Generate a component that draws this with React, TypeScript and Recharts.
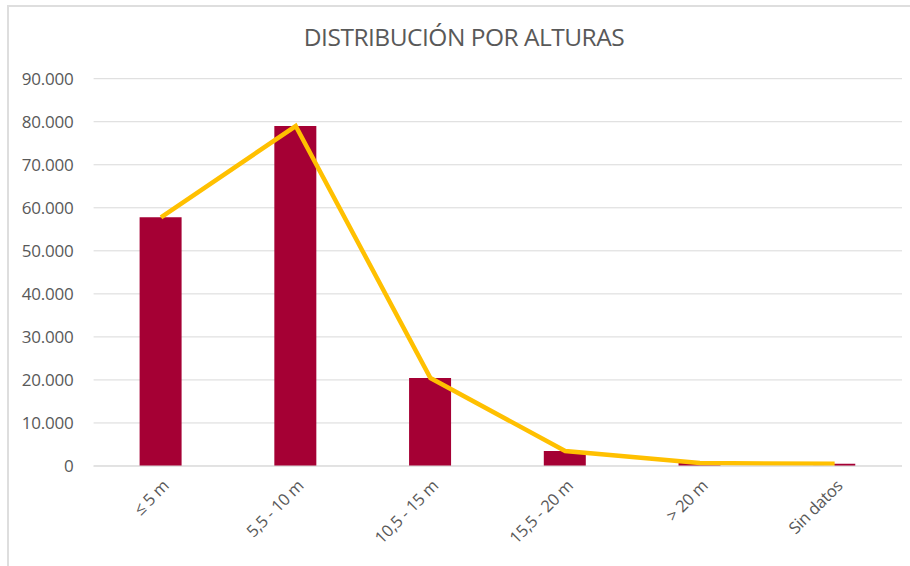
import React from 'react';
import { ComposedChart, Bar, Line, XAxis, YAxis, CartesianGrid } from 'recharts';

const categories = ['≤ 5 m', '5,5 - 10 m', '10,5 - 15 m', '15,5 - 20 m', '> 20 m', 'Sin datos'];
const values = [57800, 79000, 20450, 3500, 680, 520];
const yTicks = [0, 10000, 20000, 30000, 40000, 50000, 60000, 70000, 80000, 90000];

const data = categories.map((c, i) => ({ name: c, value: values[i] }));

const FONT = "'Open Sans', 'Noto Sans', sans-serif";

const fmt = (v: number) => String(v).replace(/\B(?=(\d{3})+(?!\d))/g, '.');

const XTick = (props: any) => {
  const { x, y, payload } = props;
  const ax = x + 9;
  const ay = y + 13;
  return (
    <text
      x={ax}
      y={ay}
      transform={`rotate(-45, ${ax}, ${ay})`}
      textAnchor="end"
      fill="#595959"
      fontSize={16.5}
      fontFamily={FONT}
      letterSpacing={-0.3}
    >
      {payload.value}
    </text>
  );
};

export default function App() {
  return (
    <div style={{ position: 'absolute', left: 0, top: 0, width: 910, height: 566, background: '#fff', overflow: 'hidden' }}>
      <div
        style={{
          position: 'absolute',
          left: 7,
          top: 5,
          width: 920,
          height: 600,
          border: '2px solid #dedede',
          boxSizing: 'border-box',
        }}
      />
      <div
        style={{
          position: 'absolute',
          left: 0,
          width: 928,
          top: 20,
          textAlign: 'center',
          fontFamily: FONT,
          fontSize: 24.5,
          color: '#595959',
          letterSpacing: -0.5,
        }}
      >
        DISTRIBUCIÓN POR ALTURAS
      </div>
      <div style={{ position: 'absolute', left: 0, top: 0 }}>
        <ComposedChart
          width={910}
          height={566}
          data={data}
          margin={{ top: 78.7, right: 8, left: 0, bottom: 0 }}
        >
          <CartesianGrid vertical={false} stroke="#d9d9d9" strokeWidth={1} />
          <XAxis
            dataKey="name"
            height={100}
            axisLine={{ stroke: '#d9d9d9' }}
            tickLine={false}
            interval={0}
            tick={<XTick />}
          />
          <YAxis
            width={93.6}
            domain={[0, 90000]}
            ticks={yTicks}
            tickFormatter={fmt}
            axisLine={false}
            tickLine={false}
            tickSize={0}
            tickMargin={20}
            tick={{ fill: '#595959', fontSize: 17, fontFamily: FONT, letterSpacing: -0.2 }}
          />
          <Bar dataKey="value" fill="#A50034" barSize={42} isAnimationActive={false} />
          <Line
            dataKey="value"
            type="linear"
            stroke="#FFC000"
            strokeWidth={4.5}
            dot={false}
            activeDot={false}
            isAnimationActive={false}
          />
        </ComposedChart>
      </div>
    </div>
  );
}
